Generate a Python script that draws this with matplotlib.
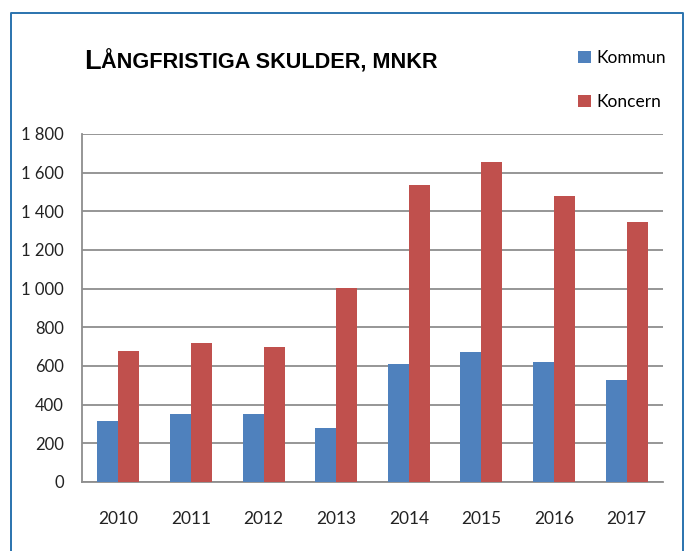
import matplotlib
matplotlib.use("Agg")
import matplotlib.pyplot as plt
import numpy as np
from matplotlib.patches import Patch
from matplotlib.lines import Line2D
from matplotlib.ticker import FuncFormatter

years = ["2010", "2011", "2012", "2013", "2014", "2015", "2016", "2017"]
kommun = [318, 353, 353, 280, 612, 670, 621, 527]
koncern = [680, 718, 699, 1004, 1538, 1653, 1479, 1346]
series_names = ["Kommun", "Koncern"]
y_ticks = [0, 200, 400, 600, 800, 1000, 1200, 1400, 1600, 1800]
title_first = "L"
title_rest = "ÅNGFRISTIGA SKULDER, MNKR"

c_blue = "#4F81BD"
c_red = "#C0504D"
grid_c = "#8E8E8E"

W, H = 692, 551
fig = plt.figure(figsize=(W / 100, H / 100), dpi=100)
fig.patch.set_facecolor("white")

ax = fig.add_axes([82 / W, 1 - 482 / H, (663 - 82) / W, 348 / H])
x = np.arange(len(years))
bw = 0.29
ax.bar(x - bw / 2, kommun, width=bw, color=c_blue, zorder=3)
ax.bar(x + bw / 2, koncern, width=bw, color=c_red, zorder=3)

ax.set_xlim(-0.5, len(years) - 0.5)
ax.set_ylim(0, 1800)
ax.set_yticks(y_ticks)
ax.yaxis.set_major_formatter(FuncFormatter(lambda v, p: f"{int(v):,}".replace(",", " ")))
ax.set_xticks(x)
ax.set_xticklabels(years)
ax.tick_params(axis="both", length=0)
ax.tick_params(axis="y", pad=13, labelsize=12, labelcolor="#222222")
ax.tick_params(axis="x", pad=21, labelsize=12.5, labelcolor="#222222")
for lab in ax.get_xticklabels() + ax.get_yticklabels():
    lab.set_fontfamily("Lato")

ax.yaxis.grid(True, color=grid_c, linewidth=1.3, zorder=0)
ax.set_axisbelow(True)
for s in ["top", "right"]:
    ax.spines[s].set_visible(False)
for s in ["left", "bottom"]:
    ax.spines[s].set_color(grid_c)
    ax.spines[s].set_linewidth(1.3)

# Outer frame (left, top, right)
fx0, fx1, fy = 11 / W, 683 / W, 1 - 13 / H
fig.add_artist(Line2D([fx0, fx0, fx1, fx1], [0, fy, fy, 0], transform=fig.transFigure,
                      color="#2A73AE", linewidth=1.4))

# Title in small-caps style
base_y = 1 - 69 / H
t1 = fig.text(84 / W, base_y, title_first, fontsize=19.5, fontweight="bold",
              family="Liberation Sans", va="baseline", ha="left")
fig.canvas.draw()
bb = t1.get_window_extent(fig.canvas.get_renderer())
fig.text(bb.x1 / W, base_y, title_rest, fontsize=15.6, fontweight="bold",
         family="Liberation Sans", va="baseline", ha="left")

# Legend
handles = [Patch(facecolor=c_blue), Patch(facecolor=c_red)]
fig.legend(handles, series_names, loc="upper left", bbox_to_anchor=(578 / W, 1 - 50 / H),
           frameon=False, handlelength=0.75, handleheight=0.75, handletextpad=0.3,
           labelspacing=1.62, borderpad=0, borderaxespad=0,
           prop={"family": "Lato", "size": 12.5})

fig.savefig("out.png", dpi=100, facecolor="white")
